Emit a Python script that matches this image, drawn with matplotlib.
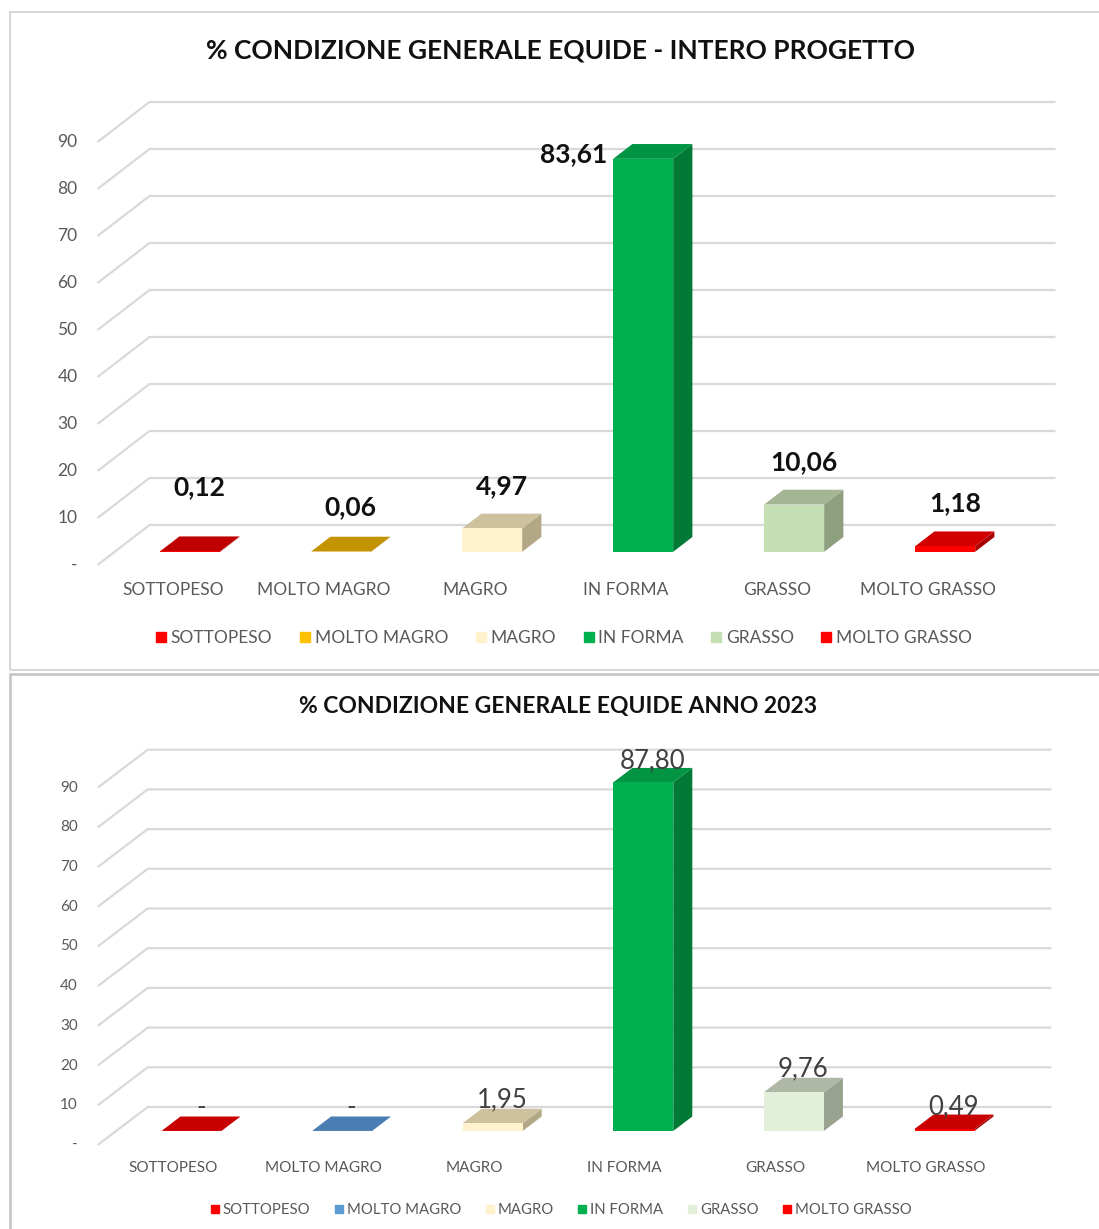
import matplotlib
matplotlib.use("Agg")
import matplotlib.pyplot as plt
from matplotlib import font_manager
from matplotlib.lines import Line2D
from matplotlib.patches import Polygon, Rectangle

W, H = 1099, 1229

available = {f.name for f in font_manager.fontManager.ttflist}
base_font = "Lato" if "Lato" in available else "DejaVu Sans"
plt.rcParams["font.family"] = [base_font, "DejaVu Sans"]

# ---- data -------------------------------------------------------------
categories = ["SOTTOPESO", "MOLTO MAGRO", "MAGRO", "IN FORMA", "GRASSO", "MOLTO GRASSO"]
values_total = [0.12, 0.06, 4.97, 83.61, 10.06, 1.18]
values_2023 = [0.0, 0.0, 1.95, 87.80, 9.76, 0.49]
tick_values = [0, 10, 20, 30, 40, 50, 60, 70, 80, 90]
tick_labels = ["-", "10", "20", "30", "40", "50", "60", "70", "80", "90"]

title_total = "% CONDIZIONE GENERALE EQUIDE - INTERO PROGETTO"
title_2023 = "% CONDIZIONE GENERALE EQUIDE ANNO 2023"

front_total = ["#FF0000", "#FFC000", "#FFF2CC", "#00B050", "#C5E0B4", "#FF0000"]
top_total = ["#C00000", "#C49400", "#CDC19E", "#009443", "#A3B593", "#D20000"]
side_total = ["#9A0000", "#A07800", "#B3A886", "#007A35", "#8D9F7D", "#A80000"]

front_2023 = ["#FF0000", "#5B9BD5", "#FFF2CC", "#00B050", "#E2F0D9", "#FF0000"]
top_2023 = ["#C80000", "#4A7EB2", "#CDC19E", "#009443", "#AEB8A5", "#C80000"]
side_2023 = ["#A00000", "#3C6894", "#B3A886", "#007A35", "#98A28F", "#A00000"]

GRID = "#D9D9D9"
AXIS_TEXT = "#595959"


def fmt(v):
    return "-" if v == 0 else f"{v:.2f}".replace(".", ",")


def draw_panel(fig, g, values, fronts, tops, sides, title):
    top_px, bot_px = g["region"]
    ax = fig.add_axes([0, 1 - bot_px / H, 1, (bot_px - top_px) / H])
    sx, sy = g["sx"], g["sy"]
    ax.set_xlim(-g["x0"] / sx, (W - g["x0"]) / sx)
    ax.set_ylim((g["y0"] - bot_px) / sy, (g["y0"] - top_px) / sy)
    ax.axis("off")

    dxz = g["dx"] / sx          # full wall depth, category units
    dyz = g["dy"] / sy          # full wall depth, value units
    left, right = -0.5, len(values) - 0.5

    # walls: diagonal gridlines on side wall, horizontal on back wall
    for v, lab in zip(tick_values, tick_labels):
        ax.plot([left, left + dxz, right + dxz], [v, v + dyz, v + dyz],
                color=GRID, lw=1.6, zorder=1, solid_capstyle="butt")
        ax.text(left - g["tick_gap"] / sx, v, lab, ha="right", va="center",
                fontsize=g["tick_size"], color=AXIS_TEXT)

    hw = g["bw"] / 2 / sx
    z0, z1 = g["z0"], g["z1"]
    ddx, ddy = (z1 - z0) * dxz, (z1 - z0) * dyz
    for i, v in enumerate(values):
        xc = i + z0 * dxz
        base = z0 * dyz
        xl, xr = xc - hw, xc + hw
        ax.add_patch(Polygon([(xr, base), (xr + ddx, base + ddy),
                              (xr + ddx, base + ddy + v), (xr, base + v)],
                             closed=True, fc=sides[i], ec="none", zorder=3))
        ax.add_patch(Polygon([(xl, base + v), (xr, base + v),
                              (xr + ddx, base + ddy + v), (xl + ddx, base + ddy + v)],
                             closed=True, fc=tops[i], ec="none", zorder=3))
        ax.bar(xc, v, width=2 * hw, bottom=base, color=fronts[i],
               edgecolor="none", zorder=4)

        if i == g.get("left_label", -1):
            ax.text(xl - 6 / sx, base + v + 5 / sy, fmt(v), ha="right",
                    va="center", zorder=5, **g["label_style"])
        else:
            lift = g["label_lift"][i]
            ax.text(xc + ddx / 2, base + ddy + v + lift / sy, fmt(v),
                    ha="center", va="center", zorder=5, **g["label_style"])

        ax.text(i, (g["y0"] - g["cat_y"]) / sy, categories[i], ha="center",
                va="center", fontsize=g["cat_size"], color=AXIS_TEXT)

    fig.text(g["title_x"] / W, 1 - g["title_y"] / H, title, ha="center",
             va="center", fontsize=g["title_size"], fontweight="bold",
             color="#111111")

    handles = [Line2D([], [], marker="s", linestyle="", markersize=g["mk"],
                      color=c) for c in fronts]
    fig.legend(handles, categories, loc="center", ncol=6, frameon=False,
               bbox_to_anchor=(g["legend_x"] / W, 1 - g["legend_y"] / H),
               fontsize=g["legend_size"], handlelength=0.6, handletextpad=0.25,
               columnspacing=g["colspace"], labelcolor=AXIS_TEXT,
               borderpad=0, borderaxespad=0)
    return ax


geom_total = dict(region=(12, 672), x0=173, sx=151, y0=565, sy=4.7, dx=52, dy=40,
                  z0=0.33, z1=0.70, bw=60, tick_gap=20, tick_size=12.5,
                  cat_y=590, cat_size=12.5, title_x=560, title_y=50, title_size=19,
                  legend_x=564, legend_y=638, legend_size=12.5, mk=6.5, colspace=1.58,
                  left_label=3, label_lift=[49, 30, 28, 28, 28, 28],
                  label_style=dict(fontsize=19, fontweight="bold", color="#111111"))

geom_2023 = dict(region=(672, 1229), x0=173, sx=150.6, y0=1145, sy=3.97, dx=50, dy=38,
                 z0=0.37, z1=0.75, bw=60, tick_gap=20, tick_size=11,
                 cat_y=1168, cat_size=11, title_x=558, title_y=706, title_size=16.5,
                 legend_x=561, legend_y=1210, legend_size=10.7, mk=6, colspace=1.6,
                 label_lift=[9, 9, 9, 7, 9, 8],
                 label_style=dict(fontsize=18.5, color="#404040"))

fig = plt.figure(figsize=(W / 100, H / 100), dpi=100)
fig.patch.set_facecolor("white")

# panel frames
fig.add_artist(Rectangle((10 / W, 1 - 670 / H), 1.2, (670 - 12) / H,
                         transform=fig.transFigure, fill=False, ec="#D0D0D0", lw=1.2))
fig.add_artist(Rectangle((10 / W, -0.1), 1.2, 0.1 + (1229 - 674) / H,
                         transform=fig.transFigure, fill=False, ec="#C8C8C8", lw=2.0))

draw_panel(fig, geom_total, values_total, front_total, top_total, side_total, title_total)
draw_panel(fig, geom_2023, values_2023, front_2023, top_2023, side_2023, title_2023)

fig.savefig("out.png", dpi=100, facecolor="white")
